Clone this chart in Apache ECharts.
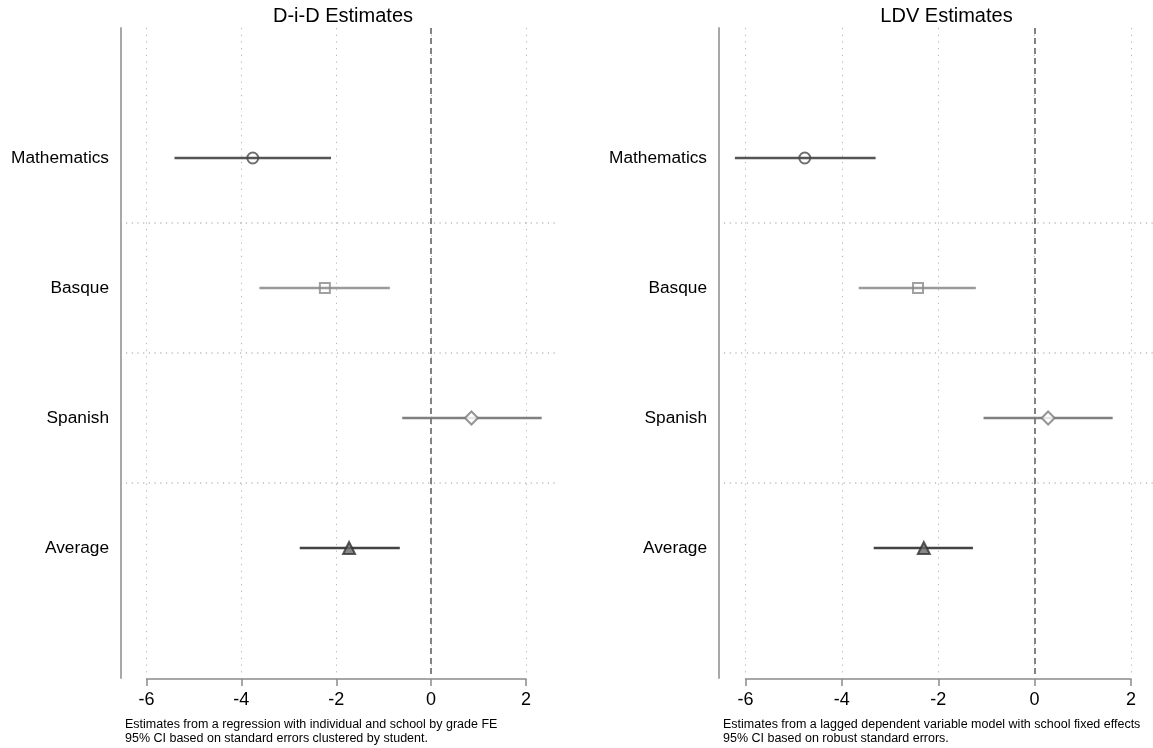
<!DOCTYPE html>
<html>
<head>
<meta charset="utf-8">
<script src="https://cdn.jsdelivr.net/npm/echarts@6/dist/echarts.min.js"></script>
<style>
html,body{margin:0;padding:0;background:#fff;}
#chart{width:1153px;height:748px;}
</style>
</head>
<body>
<div id="chart"></div>
<script>
// ---------- data ----------
const categories = ['Mathematics', 'Basque', 'Spanish', 'Average'];
const didEst = [-3.76, -2.24, 0.85, -1.73];
const didLo  = [-5.41, -3.62, -0.61, -2.77];
const didHi  = [-2.11, -0.87, 2.33, -0.66];
const ldvEst = [-4.77, -2.42, 0.28, -2.30];
const ldvLo  = [-6.22, -3.65, -1.06, -3.34];
const ldvHi  = [-3.30, -1.22, 1.62, -1.28];
const xTickMin = -6, xTickMax = 2, xTickStep = 2;
const panelTitles = ['D-i-D Estimates', 'LDV Estimates'];
const footnotes = [
  'Estimates from a regression with individual and school by grade FE\n95% CI based on standard errors clustered by student.',
  'Estimates from a lagged dependent variable model with school fixed effects\n95% CI based on robust standard errors.'
];

// ---------- styles ----------
const FONT = '"Liberation Sans", Arial, Helvetica, sans-serif';
const catColors = ['#555555', '#9a9a9a', '#808080', '#444444'];
const catSymbols = ['circle', 'rect', 'diamond', 'triangle'];
const catSizes = [11, 10, 13, 12];
const catFills = ['rgba(0,0,0,0)', 'rgba(0,0,0,0)', '#ffffff', '#6a6a6a'];
const catBorders = ['#4a4a4a', '#8a8a8a', '#7a7a7a', '#333333'];

const nCat = categories.length;
const separators = [];
for (let i = 1; i < nCat; i++) separators.push(i + 0.5);

const chart = echarts.init(document.getElementById('chart'), null, {renderer: 'canvas'});

const TOP = 28, H = 650;
const panels = [
  {outerLeft: 121, outerWidth: 434, innerLeft: 146.5, innerWidth: 379.5, est: didEst, lo: didLo, hi: didHi},
  {outerLeft: 719, outerWidth: 445, innerLeft: 745.5, innerWidth: 385.5, est: ldvEst, lo: ldvLo, hi: ldvHi}
];

const grid = [], xAxis = [], yAxis = [], series = [];
panels.forEach((p, k) => {
  const gA = grid.length;
  grid.push({left: p.outerLeft, width: p.outerWidth, top: TOP, height: H, containLabel: false});
  grid.push({left: p.innerLeft, width: p.innerWidth, top: TOP, height: H, containLabel: false});
  const gB = gA + 1;
  // outer grid axes
  xAxis.push({gridIndex: gA, type: 'value', min: 0, max: 1, show: false});
  yAxis.push({
    gridIndex: gA, type: 'value', min: 0, max: nCat + 1, interval: 1, inverse: true,
    axisLine: {show: true, lineStyle: {color: '#a8a8a8', width: 2}},
    axisTick: {show: false},
    splitLine: {show: false},
    axisLabel: {
      show: true, margin: 12, fontSize: 17.3, color: '#000', fontFamily: FONT,
      formatter: v => categories[v - 1] || ''
    }
  });
  // inner grid axes
  xAxis.push({
    gridIndex: gB, type: 'value', min: xTickMin, max: xTickMax, interval: xTickStep,
    offset: 1,
    axisLine: {show: true, onZero: false, lineStyle: {color: '#8a8a8a', width: 1.5}},
    axisTick: {show: true, length: 7, lineStyle: {color: '#8a8a8a', width: 1.5}},
    axisLabel: {margin: 12, fontSize: 18, color: '#000', fontFamily: FONT},
    splitLine: {show: true, lineStyle: {color: '#b4b4b4', width: 1, type: [1.2, 5.5]}}
  });
  yAxis.push({gridIndex: gB, type: 'value', min: 0, max: nCat + 1, inverse: true, show: false});

  const xA = xAxis.length - 2, yA = yAxis.length - 2, xB = xA + 1, yB = yA + 1;

  // separators between categories (outer grid)
  series.push({
    type: 'custom', xAxisIndex: xA, yAxisIndex: yA, silent: true, clip: false,
    data: separators.map(s => [0, s]),
    renderItem: (params, api) => {
      const cs = params.coordSys;
      const y = api.coord([0, api.value(1)])[1];
      return {type: 'line', shape: {x1: cs.x + 5, y1: y, x2: cs.x + cs.width, y2: y},
        style: {stroke: '#999999', lineWidth: 1, lineDash: [1.2, 4.5]}};
    }
  });

  // confidence intervals
  series.push({
    type: 'custom', xAxisIndex: xB, yAxisIndex: yB, silent: true, clip: false,
    data: categories.map((c, i) => [p.lo[i], p.hi[i], i + 1]),
    encode: {x: [0, 1], y: 2},
    renderItem: (params, api) => {
      const a = api.coord([api.value(0), api.value(2)]);
      const b = api.coord([api.value(1), api.value(2)]);
      return {type: 'line', shape: {x1: a[0], y1: a[1], x2: b[0], y2: b[1]},
        style: {stroke: catColors[params.dataIndex], lineWidth: 2.5}};
    },
    z: 2
  });

  // point estimates + zero line
  series.push({
    type: 'scatter', xAxisIndex: xB, yAxisIndex: yB, clip: false, z: 3,
    data: categories.map((c, i) => ({
      value: [p.est[i], i + 1],
      symbol: catSymbols[i],
      symbolSize: catSizes[i],
      itemStyle: {color: catFills[i], borderColor: catBorders[i], borderWidth: 2}
    })),
    markLine: {
      silent: true, symbol: 'none', label: {show: false},
      lineStyle: {color: '#777', width: 1.8, type: [6, 4]},
      data: [{xAxis: 0}]
    }
  });
});

const title = [];
panels.forEach((p, k) => {
  title.push({
    text: panelTitles[k], left: p.outerLeft + p.outerWidth / 2, top: 1, textAlign: 'center',
    textStyle: {fontSize: 20, fontWeight: 'normal', color: '#000', fontFamily: FONT}
  });
  title.push({
    text: footnotes[k], left: p.outerLeft + 4, top: 718, padding: 0,
    textStyle: {fontSize: 12.5, fontWeight: 'normal', color: '#000', fontFamily: FONT, lineHeight: 13.5}
  });
});

chart.setOption({
  animation: false,
  backgroundColor: '#fff',
  title, grid, xAxis, yAxis, series
});
</script>
</body>
</html>
